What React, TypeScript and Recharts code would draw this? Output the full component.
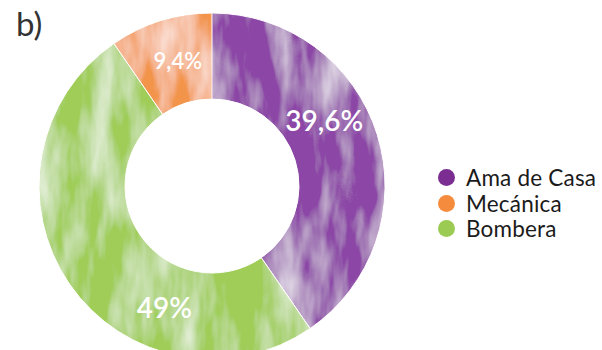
import { PieChart, Pie, Cell } from "recharts";

// pie order, clockwise from 12 o'clock
const slices = ["Ama de Casa", "Bombera", "Mecánica"];
const shares = [39.6, 49, 9.4];
const labels = ["39,6%", "49%", "9,4%"];
const sliceColors = ["#8C47A6", "#9FCD58", "#F3944C"];

// legend order
const legendNames = ["Ama de Casa", "Mecánica", "Bombera"];
const legendColors = ["#7B2D91", "#F58B3C", "#9BCB52"];

const data = slices.map((name, i) => ({ name, value: shares[i] }));

// nudge labels away from the slice mid-angle, as in the original
const labelShift: Record<string, number> = {
  "Ama de Casa": 13,
  Bombera: 34,
  "Mecánica": -2,
};
const labelSize: Record<string, number> = {
  "Ama de Casa": 28,
  Bombera: 28,
  "Mecánica": 22,
};

const RAD = Math.PI / 180;

function renderLabel(props: any) {
  const { cx, cy, innerRadius, outerRadius, midAngle, index, name } = props;
  const r = (innerRadius + outerRadius) / 2;
  const a = (midAngle + (labelShift[name] ?? 0)) * RAD;
  const x = cx + r * Math.cos(-a);
  const y = cy + r * Math.sin(-a);
  return (
    <text
      x={x}
      y={y}
      fill="#fff"
      textAnchor="middle"
      dominantBaseline="central"
      fontFamily="Lato"
      fontWeight={600}
      fontSize={labelSize[name] ?? 26}
    >
      {labels[index]}
    </text>
  );
}

function LegendBox() {
  return (
    <div
      style={{
        position: "absolute",
        left: 438,
        top: 165,
        fontFamily: "Lato",
        fontSize: 22.5,
        color: "#1b1b1b",
        letterSpacing: 0.2,
      }}
    >
      {legendNames.map((n, i) => (
        <div key={n} style={{ display: "flex", alignItems: "center", height: 25.5 }}>
          <span
            style={{
              width: 17,
              height: 17,
              borderRadius: "50%",
              background: legendColors[i],
              display: "inline-block",
              marginRight: 11,
            }}
          />
          {n}
        </div>
      ))}
    </div>
  );
}

export default function App() {
  return (
    <div style={{ position: "absolute", left: 0, top: 0, width: 602, height: 350, background: "#fff" }}>
      <PieChart width={602} height={350} margin={{ top: 0, right: 0, bottom: 0, left: 0 }}>
        <defs>
          {/* soft watercolour wash, streaks mostly vertical */}
          <filter id="wash" x="0" y="0" width="100%" height="100%">
            <feTurbulence type="fractalNoise" baseFrequency="0.035 0.009" numOctaves={4} seed={11} result="n" />
            <feColorMatrix
              in="n"
              type="matrix"
              values="0 0 0 0 1  0 0 0 0 1  0 0 0 0 1  1.5 0 0 0 -0.62"
              result="w"
            />
            <feComposite in="w" in2="SourceGraphic" operator="in" result="wi" />
            <feMerge>
              <feMergeNode in="SourceGraphic" />
              <feMergeNode in="wi" />
            </feMerge>
          </filter>
        </defs>
        <Pie
          data={data}
          dataKey="value"
          nameKey="name"
          cx={212}
          cy={186}
          innerRadius={87}
          outerRadius={173}
          startAngle={90}
          endAngle={-270}
          stroke="#fff"
          strokeWidth={1}
          label={renderLabel}
          labelLine={false}
          isAnimationActive={false}
        >
          {data.map((d, i) => (
            <Cell key={d.name} fill={sliceColors[i]} filter="url(#wash)" />
          ))}
        </Pie>
      </PieChart>
      <div
        style={{
          position: "absolute",
          left: 16,
          top: 3,
          fontFamily: "Lato",
          fontSize: 33,
          color: "#333",
        }}
      >
        b)
      </div>
      <LegendBox />
    </div>
  );
}
